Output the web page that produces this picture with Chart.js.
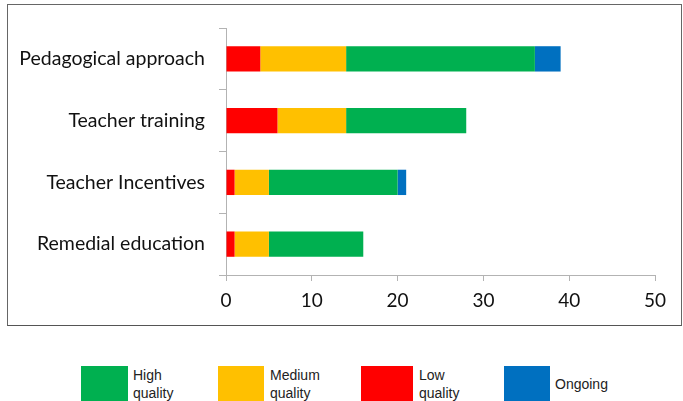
<!DOCTYPE html>
<html lang="en">
<head>
<meta charset="UTF-8">
<title>Evaluations by area</title>
<script src="https://cdn.jsdelivr.net/npm/chart.js"></script>
<style>
    body { margin: 0; background: #fff; width: 683px; height: 401px; overflow: hidden; position: relative; }
    .caixa { position: absolute; left: 7px; top: 4px; width: 673px; height: 320px; border: 1px solid #666; border-bottom-color: #555; }
    .grafico { position: absolute; left: 0; top: 0; width: 683px; height: 318px; }
    .legenda { position: absolute; top: 366px; left: 0; width: 683px; height: 35px; font-family: "Liberation Sans", Arial, sans-serif; font-size: 14px; line-height: 18px; color: #222; }
    .item { position: absolute; top: 0; height: 35px; }
    .item .cor { position: absolute; left: 0; top: 0; height: 35px; }
    .item span { position: absolute; top: 0; white-space: nowrap; }
</style>
</head>
<body>
<div class="caixa"></div>
<div class="grafico"><canvas id="grafico" width="683" height="318"></canvas></div>
<div class="legenda" id="legenda"></div>

<script>
    const categorias = ['Pedagogical approach', 'Teacher training', 'Teacher Incentives', 'Remedial education'];
    const baixa = [4, 6, 1, 1];
    const media = [10, 8, 4, 4];
    const alta = [22, 14, 15, 11];
    const andamento = [3, 0, 1, 0];
    const ticksX = [0, 10, 20, 30, 40, 50];

    const cores = { alta: '#00B050', media: '#FFC000', baixa: '#FF0000', andamento: '#0070C0' };

    const cinza = '#b3b3b3';

    const data1 = {
        labels: categorias,
        datasets: [
            { label: 'Low quality', data: baixa, backgroundColor: cores.baixa },
            { label: 'Medium quality', data: media, backgroundColor: cores.media },
            { label: 'High quality', data: alta, backgroundColor: cores.alta },
            { label: 'Ongoing', data: andamento, backgroundColor: cores.andamento }
        ]
    };

    const config1 = {
        type: 'bar',
        data: data1,
        options: {
            indexAxis: 'y',
            responsive: false,
            animation: false,
            categoryPercentage: 1,
            barPercentage: 0.41,
            layout: { padding: { top: 28, right: 28, left: 0, bottom: 0 } },
            plugins: {
                legend: { display: false },
                tooltip: { enabled: false }
            },
            scales: {
                x: {
                    stacked: true,
                    min: 0,
                    max: 50,
                    afterBuildTicks: (scale) => { scale.ticks = ticksX.map(v => ({ value: v })); },
                    afterFit: (scale) => { scale.height = 43; },
                    grid: { drawOnChartArea: false, drawTicks: true, tickLength: 6, color: cinza },
                    border: { color: cinza, width: 1 },
                    ticks: { color: '#111', font: { family: 'Lato', size: 19 }, padding: 8 }
                },
                y: {
                    stacked: true,
                    afterFit: (scale) => { scale.width = 226; },
                    grid: { drawOnChartArea: false, drawTicks: true, tickLength: 7, color: cinza, offset: true },
                    border: { color: cinza, width: 1 },
                    ticks: { color: '#111', font: { family: 'Lato', size: 19.5 }, padding: 14 }
                }
            }
        }
    };

    const myChart = new Chart(document.getElementById('grafico'), config1);

    // legenda montada a mao, na ordem do original
    const itens = [
        { texto: 'High<br>quality', cor: cores.alta, x: 81, w: 47, tx: 133, top: 0 },
        { texto: 'Medium<br>quality', cor: cores.media, x: 218, w: 46, tx: 270, top: 0 },
        { texto: 'Low<br>quality', cor: cores.baixa, x: 361, w: 52, tx: 419, top: 0 },
        { texto: 'Ongoing', cor: cores.andamento, x: 504, w: 46, tx: 555, top: 9 }
    ];
    itens.forEach(it => {
        legenda.innerHTML += `<div class="item" style="left:${it.x}px">
            <div class="cor" style="width:${it.w}px;background:${it.cor}"></div>
            <span style="left:${it.tx - it.x}px;top:${it.top}px">${it.texto}</span></div>`;
    });
</script>
</body>
</html>
